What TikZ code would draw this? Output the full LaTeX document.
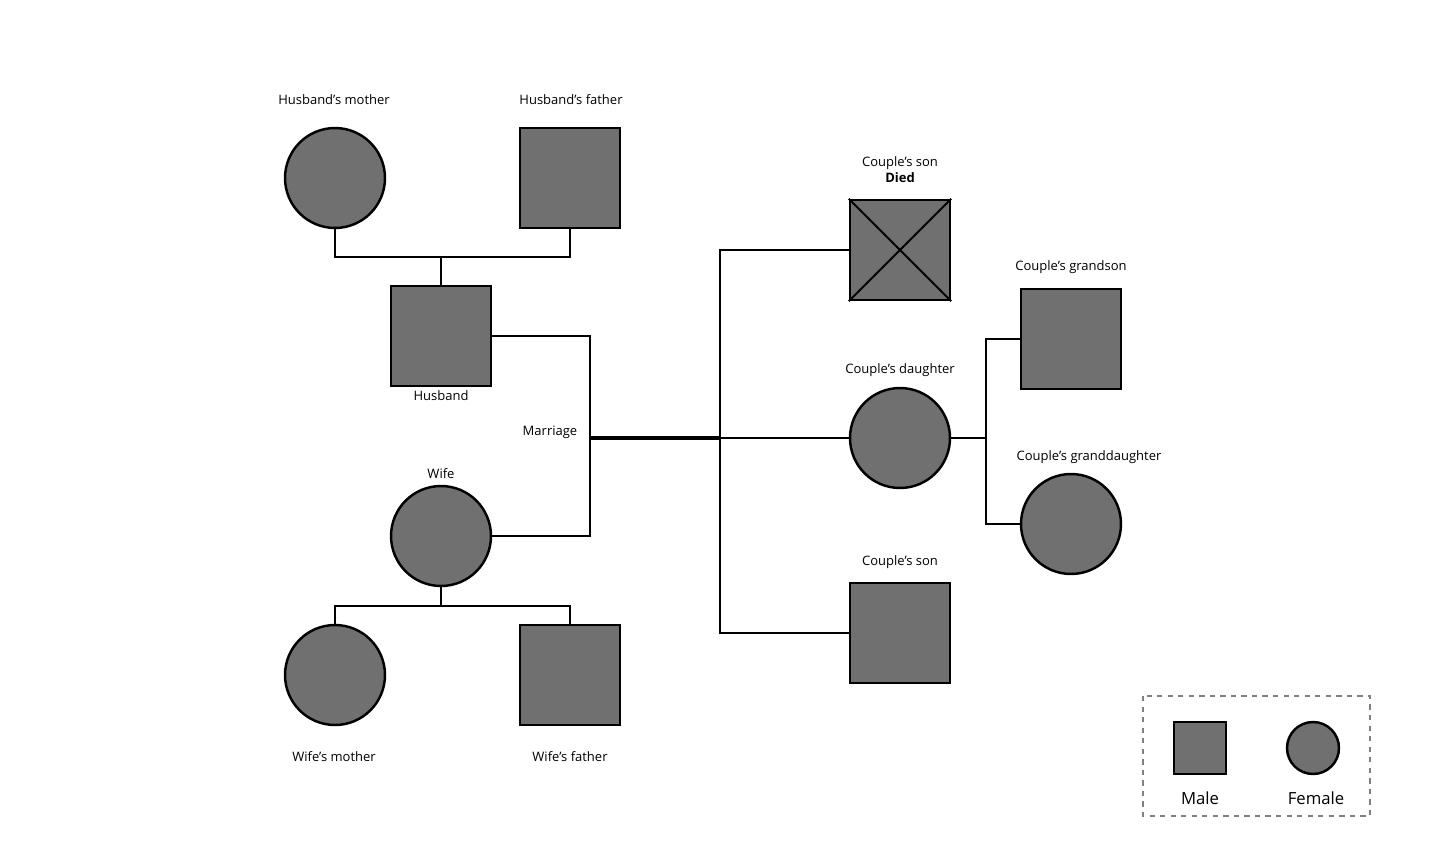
\documentclass[tikz,border=0pt]{standalone}
\usepackage{fontspec}
\setmainfont{Open Sans}
\definecolor{fillgray}{HTML}{707071}
\tikzset{
  male/.style={draw=black,fill=fillgray,line width=1.4pt,minimum size=2cm,inner sep=0pt},
  female/.style={draw=black,fill=fillgray,line width=1.4pt,circle,minimum size=2cm,inner sep=0pt},
  lbl/.style={font=\fontsize{7.4}{9}\selectfont},
  link/.style={line width=1.1pt}
}
\begin{document}
\begin{tikzpicture}[x=0.02cm,y=-0.02cm]
\useasboundingbox (0,0) rectangle (1443,858);
%grandparents of husband
\node[female] (hm) at (335,178) {};
\node[male] (hf) at (570,178) {};
\node[lbl] at (334,100) {Husband's mother};
\node[lbl] at (571,100) {Husband's father};
%husband and wife
\node[male] (h) at (441,336) {};
\node[lbl] at (441,396) {Husband};
\node[female] (w) at (441,536) {};
\node[lbl] at (441,474) {Wife};
%grandparents of wife
\node[female] (wm) at (335,675) {};
\node[male] (wf) at (570,675) {};
\node[lbl] at (334,757) {Wife's mother};
\node[lbl] at (570,757) {Wife's father};
%children
\node[male] (sd) at (900,250) {};
\draw[line width=1.1pt] (sd.north west)--(sd.south east) (sd.north east)--(sd.south west);
\node[lbl,align=center] at (900,170) {Couple's son\\\textbf{Died}};
\node[female] (d) at (900,438) {};
\node[lbl] at (900,370) {Couple's daughter};
\node[male] (s) at (900,633) {};
\node[lbl] at (900,562) {Couple's son};
%grandchildren
\node[male] (gs) at (1071,339) {};
\node[lbl] at (1071,267) {Couple's grandson};
\node[female] (gd) at (1071,524) {};
\node[lbl] at (1089,457) {Couple's granddaughter};
%connectors
\coordinate (hj) at (441,257);
\coordinate (wj) at (441,606);
\coordinate (m) at (590,438);
\coordinate (c) at (720,438);
\coordinate (g) at (986,438);
\draw[link] (hm.south)|-(hj)-|(hf.south);
\draw[link] (hj)--(h.north);
\draw[link] (w.south)--(wj);
\draw[link] (wm.north)|-(wj)-|(wf.north);
\draw[link] (h.east)-|(m)|-(w.east);
\draw[line width=2.2pt] (m)--(c);
\node[lbl] at (550,432) {Marriage};
\draw[link] (sd.west)-|(c)|-(s.west);
\draw[link] (c)--(d.west);
\draw[link] (d.east)--(g);
\draw[link] (gs.west)-|(g)|-(gd.west);
%legend
\draw[gray,dashed,line width=0.6pt] (1143,696) rectangle (1370,816);
\node[male,minimum size=1.04cm] (lm) at (1200,748) {};
\node[female,minimum size=1.04cm] (lf) at (1313,748) {};
\node[font=\fontsize{9.5}{11}\selectfont] at (1200,798) {Male};
\node[font=\fontsize{9.5}{11}\selectfont] at (1316,798) {Female};
\end{tikzpicture}
\end{document}
